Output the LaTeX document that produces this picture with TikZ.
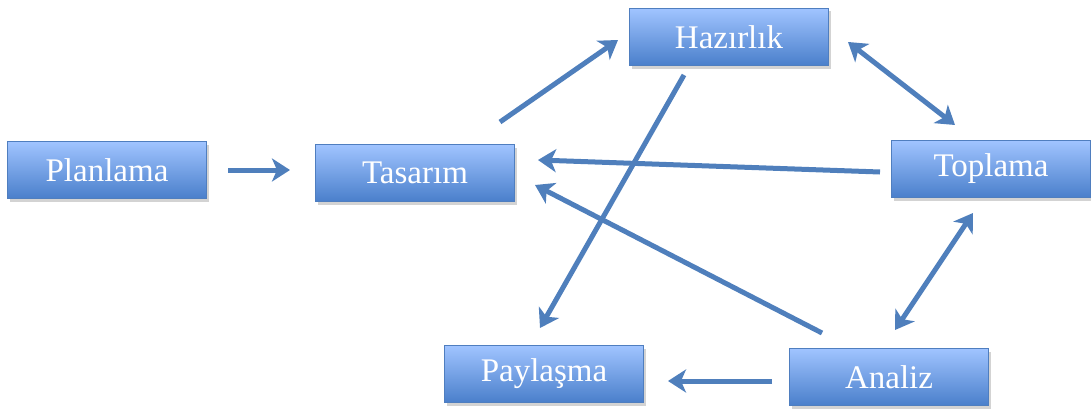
\documentclass[tikz,border=0pt]{standalone}
\usepackage{fontspec}
\setmainfont{Liberation Serif}
\usetikzlibrary{arrows.meta}
\usetikzlibrary{shadows}

\definecolor{boxtop}{HTML}{A0C4FF}
\definecolor{boxbot}{HTML}{4A7FCB}
\definecolor{boxline}{HTML}{4F7EBF}
\definecolor{arrowblue}{HTML}{4F7FBC}

\tikzset{
  stage/.style={rectangle,draw=boxline,line width=1pt,top color=boxtop,bottom color=boxbot,
    minimum width=199pt,minimum height=57pt,text=white,
    font=\fontsize{33}{38}\selectfont,
    drop shadow={opacity=0.35,shadow xshift=2pt,shadow yshift=-3pt}},
  flow/.style={arrowblue,line width=5pt,arrows = -{Stealth[length=18pt,width=23pt,inset=5pt]}},
  twoway/.style={arrowblue,line width=5pt,arrows = {Stealth[length=18pt,width=23pt,inset=5pt]}-{Stealth[length=18pt,width=23pt,inset=5pt]}}
}

\begin{document}
\begin{tikzpicture}[x=1pt,y=-1pt]

            \useasboundingbox (0,0) rectangle (1091,412);

            \path   (107,170) node (planlama) [stage] {Planlama}
                    (415,173) node (tasarim)  [stage] {Tasarım}
                    (729,37)  node (hazirlik) [stage] {Hazırlık}
                    (991,169) node (toplama)  [stage] {Toplama}
                    (544,374) node (paylasma) [stage] {Paylaşma}
                    (889,377) node (analiz)   [stage] {Analiz};

            % free ends of the arrows (they stop short of the boxes)
            \coordinate (tas-out)  at (500,122);
            \coordinate (haz-in)   at (618,40);
            \coordinate (haz-r)    at (848,42);
            \coordinate (top-ul)   at (955,125);
            \coordinate (top-l)    at (880,172);
            \coordinate (tas-r)    at (538,160);
            \coordinate (haz-out)  at (684,75);
            \coordinate (pay-in)   at (540,328);
            \coordinate (ana-ul)   at (822,333);
            \coordinate (tas-lr)   at (535,185);
            \coordinate (top-b)    at (973,213);
            \coordinate (ana-ur)   at (895,330);
            \coordinate (ana-l)    at (772,381);
            \coordinate (pay-r)    at (668,381);

            \draw[flow] (planlama) ++(121,0) -- +(62,0);
            \draw[flow] (tas-out) -- (haz-in);
            \draw[twoway] (haz-r) -- (top-ul);
            \draw[flow] (top-l) -- (tas-r);
            \draw[flow] (haz-out) -- (pay-in);
            \draw[flow] (ana-ul) -- (tas-lr);
            \draw[twoway] (top-b) -- (ana-ur);
            \draw[flow] (ana-l) -- (pay-r);
        \end{tikzpicture}
\end{document}
